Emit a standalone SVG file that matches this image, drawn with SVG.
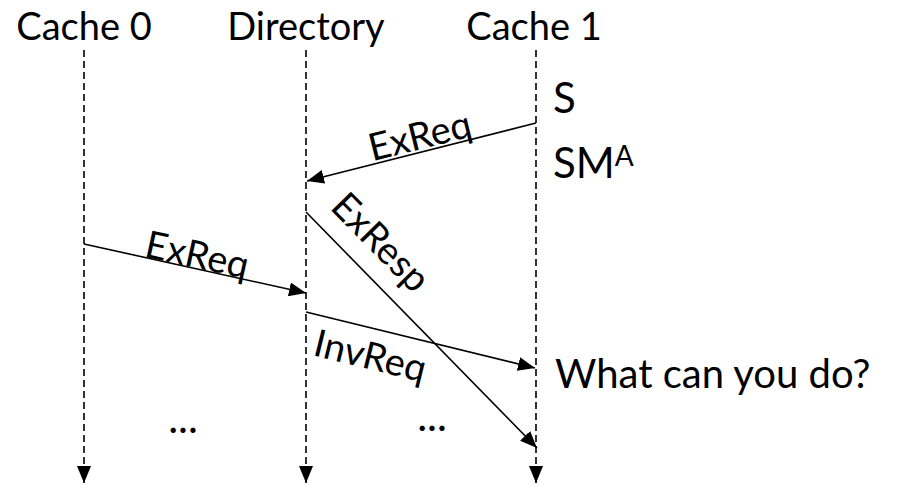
<svg xmlns="http://www.w3.org/2000/svg" width="906" height="485" viewBox="0 0 906 485">
<defs>
<style>
text{font-family:Lato,"Open Sans","Liberation Sans",sans-serif;fill:#000}
.hdr{font-size:38px}
.st{font-size:42px}
.lbl{font-size:38px}
.life{stroke:#000;stroke-width:1.6;stroke-dasharray:7,4;fill:none}
.msg{stroke:#000;stroke-width:1.6;fill:none}
</style>
<marker id="ah" markerUnits="userSpaceOnUse" markerWidth="18" markerHeight="14" refX="17" refY="7" orient="auto">
<path d="M0,0 L17,7 L0,14 z" fill="#000"/>
</marker>
</defs>
<rect width="906" height="485" fill="#fff"/>
<g id="cache0">
<text class="hdr" x="84" y="40" text-anchor="middle">Cache 0</text>
<line class="life" x1="84" y1="50" x2="84" y2="483" marker-end="url(#ah)"/>
</g>
<g id="directory">
<text class="hdr" x="306" y="40" text-anchor="middle">Directory</text>
<line class="life" x1="306" y1="50" x2="306" y2="483" marker-end="url(#ah)"/>
</g>
<g id="cache1">
<text class="hdr" x="534" y="40" text-anchor="middle">Cache 1</text>
<line class="life" x1="536" y1="50" x2="536" y2="483" marker-end="url(#ah)"/>
</g>
<g id="states">
<text class="st" x="553" y="113">S</text>
<text class="st" x="553" y="178">SM<tspan font-size="28px" dy="-12">A</tspan></text>
<text class="st" font-size="40px" x="555" y="388" style="font-size:40px">What can you do?</text>
<text class="st" x="183" y="433" text-anchor="middle">...</text>
<text class="st" x="432" y="431" text-anchor="middle">...</text>
</g>
<g id="connectors">
<line class="msg" x1="536" y1="123" x2="307" y2="181" marker-end="url(#ah)"/>
<line class="msg" x1="84" y1="244" x2="306" y2="293" marker-end="url(#ah)"/>
<line class="msg" x1="306" y1="212" x2="537" y2="448" marker-end="url(#ah)"/>
<line class="msg" x1="306" y1="312" x2="535" y2="368" marker-end="url(#ah)"/>
<text class="lbl" text-anchor="middle" transform="translate(420,137) rotate(-14)" y="12">ExReq</text>
<text class="lbl" text-anchor="middle" transform="translate(197,256) rotate(12.3)" y="12">ExReq</text>
<text class="lbl" text-anchor="middle" transform="translate(380,243) rotate(45.5)" y="12">ExResp</text>
<text class="lbl" text-anchor="middle" transform="translate(370,357) rotate(13.8)" y="12">InvReq</text>
</g>
</svg>
